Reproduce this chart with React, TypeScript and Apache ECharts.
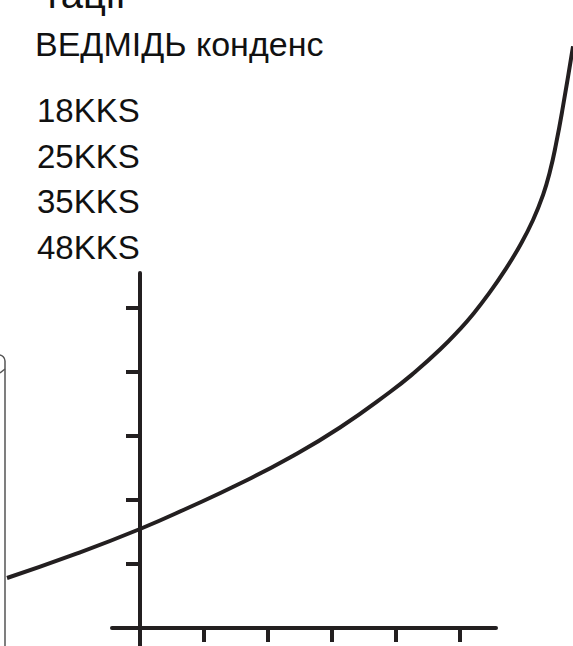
import React, { useEffect, useRef } from "react";
import * as echarts from "echarts";

// Curve samples (axis units: 1 unit = one tick step)
const curveX = [-2.078, -1.047, 0, 0.781, 1.5625, 2.344, 3.125, 3.906, 4.297, 4.6875, 5.0, 5.203, 5.453, 5.703, 5.9375, 6.141, 6.297, 6.406, 6.5, 6.609, 6.766];
const curveY = [0.781, 1.141, 1.547, 1.891, 2.258, 2.664, 3.133, 3.6875, 4.0, 4.351, 4.67, 4.903, 5.228, 5.591, 5.978, 6.375, 6.765, 7.136, 7.559, 8.148, 9.09];

const xTicks = [0, 1, 2, 3, 4, 5];
const yTicks = [1, 2, 3, 4, 5];

const topText = "тації";
const heading = "ВЕДМІДЬ конденс";
const items = ["18KKS", "25KKS", "35KKS", "48KKS"];

const INK = "#231f20";

export default function App() {
  const ref = useRef<HTMLDivElement>(null);
  useEffect(() => {
    if (!ref.current) return;
    const chart = echarts.init(ref.current, null, { renderer: "svg" });
    const itemTops = [94, 140, 185, 231];
    chart.setOption({
      animation: false,
      grid: [
        { left: 112, right: 77, top: 273, bottom: 0 },
        { left: 0, right: 0, top: 0, bottom: 0 },
      ],
      xAxis: [
        {
          type: "value",
          gridIndex: 0,
          min: -0.4375,
          max: 5.5625,
          axisLine: { show: true, onZero: true, lineStyle: { color: INK, width: 4 } },
          axisTick: { show: true, customValues: xTicks, length: 14, lineStyle: { color: INK, width: 4 } },
          axisLabel: { show: false },
          splitLine: { show: false },
        },
        {
          type: "value",
          gridIndex: 1,
          min: -2.1875,
          max: 6.765625,
          show: false,
        },
      ],
      yAxis: [
        {
          type: "value",
          gridIndex: 0,
          min: -0.28125,
          max: 5.546875,
          axisLine: { show: true, onZero: true, lineStyle: { color: INK, width: 4 } },
          axisTick: { show: true, customValues: yTicks, length: 14, lineStyle: { color: INK, width: 4 } },
          axisLabel: { show: false },
          splitLine: { show: false },
        },
        {
          type: "value",
          gridIndex: 1,
          min: -0.28125,
          max: 9.8125,
          show: false,
        },
      ],
      series: [
        {
          type: "line",
          xAxisIndex: 1,
          yAxisIndex: 1,
          data: curveX.map((x, i) => [x, curveY[i]]),
          smooth: 0.5,
          showSymbol: false,
          clip: false,
          lineStyle: { color: INK, width: 4 },
        },
      ],
      graphic: [
        {
          type: "rect",
          shape: { x: -100, y: 355, width: 105, height: 400, r: 6 },
          style: { fill: "none", stroke: "#555", lineWidth: 1.5 },
        },
        {
          type: "line",
          shape: { x1: 0, y1: 373, x2: 5, y2: 369 },
          style: { stroke: "#555", lineWidth: 1.5 },
        },
        {
          type: "text",
          x: 43,
          y: -26,
          style: { text: topText, font: "40px 'Liberation Sans', Arial, sans-serif", fill: "#111" },
        },
        {
          type: "text",
          x: 35,
          y: 27,
          style: { text: heading, font: "34px 'Liberation Sans', Arial, sans-serif", fill: "#111" },
        },
        ...items.map((t, i) => ({
          type: "text",
          x: 37,
          y: itemTops[i],
          style: { text: t, font: "33px 'Liberation Sans', Arial, sans-serif", fill: "#111" },
        })),
      ],
    });
    return () => chart.dispose();
  }, []);
  return <div ref={ref} style={{ width: 573, height: 646, position: "absolute", left: 0, top: 0 }} />;
}
